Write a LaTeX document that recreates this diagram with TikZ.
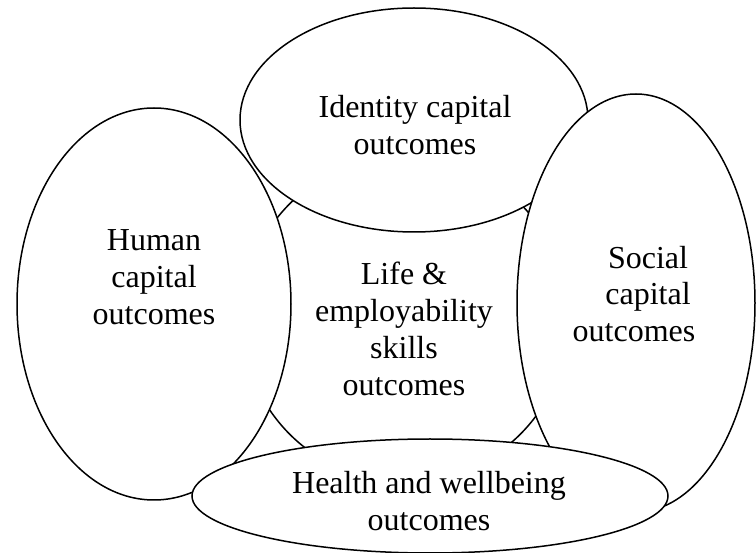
\documentclass[tikz,border=0pt]{standalone}
\usepackage{fontspec}
\setmainfont{Liberation Serif}
\begin{document}
\begin{tikzpicture}[x=1pt,y=-1pt,
  shape outline/.style={draw=black,fill=white,line width=1.5pt},
  label text/.style={align=center,inner sep=0pt,font=\fontsize{32}{36.8}\selectfont}]
\useasboundingbox (0,0) rectangle (756,553);
% central circle (behind)
\filldraw[shape outline] (405,319) circle[radius=163];
% identity (top)
\filldraw[shape outline] (414,120) ellipse[x radius=174,y radius=112];
% human (left)
\filldraw[shape outline] (154,304) ellipse[x radius=137,y radius=196];
% social (right)
\filldraw[shape outline] (636,303) ellipse[x radius=119,y radius=209];
% health (bottom)
\filldraw[shape outline] (430,496) ellipse[x radius=238,y radius=57];
% texts
\node[label text] (identity) at (415,125) {Identity capital\\outcomes};
\node[label text] (human) at (154,277) {Human\\capital\\outcomes};
\node[label text] (social) at (634,294) {\hspace*{28pt}Social\\\hspace*{28pt}capital\\outcomes};
\node[label text] (life) at (404,329) {Life \&\\employability\\skills\\outcomes};
\node[label text] (health) at (429,501) {Health and wellbeing\\outcomes};
\end{tikzpicture}
\end{document}
